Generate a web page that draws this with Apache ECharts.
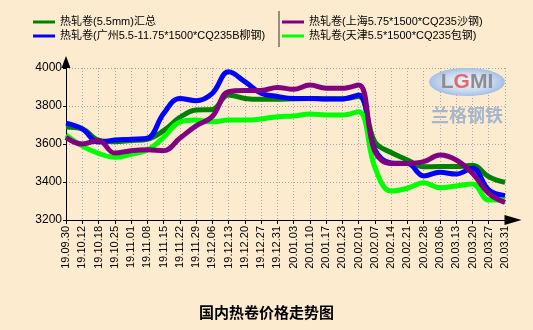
<!DOCTYPE html>
<html>
<head>
<meta charset="utf-8">
<script src="https://cdn.jsdelivr.net/npm/echarts@6/dist/echarts.min.js"></script>
<style>
  html, body { margin: 0; padding: 0; background: #FCEBCF; }
  #chart { width: 533px; height: 330px; }
</style>
</head>
<body>
<div id="chart"></div>
<script>
// Weekly dates (yy.mm.dd)
var dates = ['19.09.30','19.10.12','19.10.18','19.10.25','19.11.01','19.11.08','19.11.15',
  '19.11.22','19.11.29','19.12.06','19.12.13','19.12.20','19.12.27','19.12.31',
  '20.01.03','20.01.10','20.01.17','20.01.23','20.02.01','20.02.07','20.02.14',
  '20.02.21','20.02.28','20.03.06','20.03.13','20.03.20','20.03.27','20.03.31'];

// Prices, yuan/ton
var summary = [3690,3680,3620,3612,3618,3625,3670,3740,3779,3782,3858,3840,3835,3835,
  3838,3840,3838,3838,3850,3610,3555,3516,3480,3481,3481,3488,3428,3398];
var guangzhou = [3710,3680,3610,3621,3625,3630,3760,3840,3828,3867,3980,3928,3867,3850,
  3840,3840,3837,3837,3858,3570,3500,3498,3432,3451,3442,3472,3358,3328];
var shanghai = [3635,3600,3618,3552,3565,3570,3565,3630,3695,3745,3875,3881,3881,3898,
  3888,3910,3893,3893,3910,3560,3498,3498,3507,3542,3516,3446,3340,3292];
var tianjin = [3647,3589,3551,3530,3546,3568,3635,3715,3726,3717,3726,3726,3732,3744,
  3747,3758,3753,3753,3770,3476,3352,3367,3396,3370,3379,3389,3305,3305];

var yTicks = [3200, 3400, 3600, 3800, 4000];

var names = {
  summary: '热轧卷(5.5mm)汇总',
  guangzhou: '热轧卷(广州5.5-11.75*1500*CQ235B柳钢)',
  shanghai: '热轧卷(上海5.75*1500*CQ235沙钢)',
  tianjin: '热轧卷(天津5.5*1500*CQ235包钢)'
};

var FONT = '"Liberation Sans", Arial, "Noto Sans CJK SC", sans-serif';

function lineSeries(name, data, color, z) {
  return {
    name: name, type: 'line', data: data, smooth: 0.4, showSymbol: false,
    lineStyle: { width: 5, color: color }, itemStyle: { color: color },
    z: z, animation: false
  };
}

var legendBase = {
  orient: 'vertical', top: 15, padding: 0, itemGap: 0,
  itemWidth: 22, itemHeight: 3, icon: 'rect',
  textStyle: { fontSize: 11, lineHeight: 14, color: '#000', fontFamily: FONT }
};

var chart = echarts.init(document.getElementById('chart'), null, { renderer: 'canvas' });
chart.setOption({
  backgroundColor: '#FCEBCF',
  animation: false,
  title: {
    text: '国内热卷价格走势图', left: 'center', top: 300,
    textStyle: { fontSize: 15, fontWeight: 'bold', color: '#000', fontFamily: '"Noto Sans CJK SC", sans-serif' }
  },
  legend: [
    Object.assign({ left: 33, data: [names.summary, names.guangzhou] }, legendBase),
    Object.assign({ left: 282, data: [names.shanghai, names.tianjin] }, legendBase)
  ],
  grid: { left: 66, right: 28, top: 68, bottom: 110, containLabel: false, outerBoundsMode: 'none' },
  xAxis: {
    type: 'category', data: dates, boundaryGap: false,
    axisLine: { show: true, symbol: ['none', 'triangle'], symbolSize: [10, 17], symbolOffset: [0, 8],
      lineStyle: { color: '#000', width: 1 } },
    axisTick: { show: true, inside: false, length: 4, interval: 0, lineStyle: { color: '#000' } },
    axisLabel: { rotate: 90, interval: 0, margin: 6, fontSize: 11, color: '#000', fontFamily: FONT },
    splitLine: { show: true, interval: 0, lineStyle: { color: '#A8A8A8', type: [1, 2], width: 1 } }
  },
  yAxis: {
    type: 'value', min: yTicks[0], max: yTicks[yTicks.length - 1], interval: 200,
    axisLine: { show: true, symbol: ['none', 'triangle'], symbolSize: [9, 12], symbolOffset: [0, 6],
      lineStyle: { color: '#000', width: 1 } },
    axisTick: { show: true, length: 3, lineStyle: { color: '#000' } },
    axisLabel: { margin: 4, fontSize: 12, color: '#000', fontFamily: FONT,
      formatter: function (v) { return String(v); } },
    splitLine: { show: true, lineStyle: { color: '#A8A8A8', type: [1, 2], width: 1 } }
  },
  graphic: [
    // legend column divider
    { type: 'line', shape: { x1: 279, y1: 11, x2: 279, y2: 47 }, style: { stroke: '#333', lineWidth: 1 } },
    // company mark
    { type: 'circle', x: 467, y: 82, scaleY: 0.37, z: 1,
      shape: { cx: 0, cy: 0, r: 38 },
      style: { fill: new echarts.graphic.RadialGradient(0.5, 0.5, 0.6, [
        { offset: 0, color: 'rgba(245,248,255,0.9)' },
        { offset: 0.55, color: 'rgba(195,215,242,0.9)' },
        { offset: 1, color: 'rgba(130,170,225,0.9)' }]) } },
    { type: 'text', x: 467, y: 82, z: 2,
      style: { text: '{a|L}{b|G}{a|MI}', align: 'center', verticalAlign: 'middle',
        rich: {
          a: { fontSize: 21, fontWeight: 'bold', fill: '#8E8E8E', fontFamily: FONT },
          b: { fontSize: 21, fontWeight: 'bold', fill: '#E06A6A', fontFamily: FONT }
        } } },
    { type: 'text', x: 467, y: 115, z: 2,
      style: { text: '兰格钢铁', align: 'center', verticalAlign: 'middle', fontSize: 18,
        fontWeight: 'bold', fill: '#A7B6CB', fontFamily: '"Noto Sans CJK SC", sans-serif' } }
  ],
  series: [
    lineSeries(names.summary, summary, '#008000', 2),
    lineSeries(names.guangzhou, guangzhou, '#0000FF', 3),
    lineSeries(names.tianjin, tianjin, '#00FF00', 4),
    lineSeries(names.shanghai, shanghai, '#800080', 5)
  ]
});
</script>
</body>
</html>
